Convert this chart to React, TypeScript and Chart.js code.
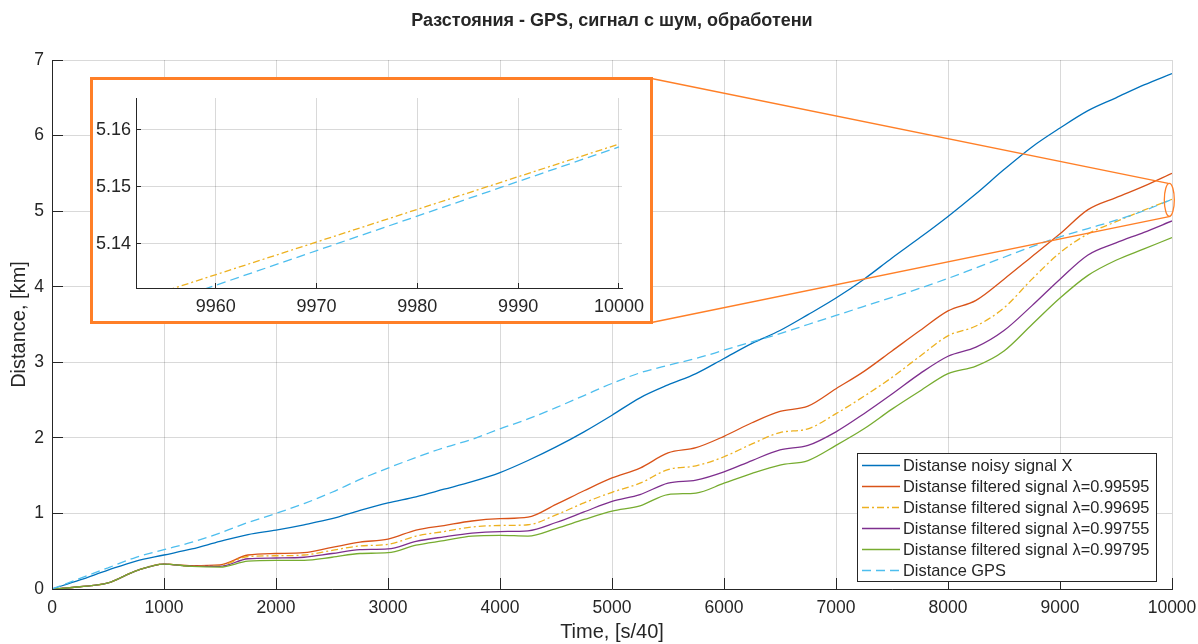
import React, { useEffect, useRef } from 'react';
import { Chart, registerables } from 'chart.js';

Chart.register(...registerables);

const FONT = '"Liberation Sans", Arial, Helvetica, sans-serif';
const TEXT = '#262626';
const GRID = 'rgba(0,0,0,0.15)';
const BOX_ORANGE = '#FF7F27';

// ---------- data ----------
const timeSteps = [
  0, 250, 500, 750, 1000, 1250, 1500, 1750, 2000, 2250, 2500, 2750, 3000, 3250, 3500, 3750, 4000,
  4250, 4500, 4750, 5000, 5250, 5500, 5750, 6000, 6250, 6500, 6750, 7000, 7250, 7500, 7750, 8000,
  8250, 8500, 8750, 9000, 9250, 9500, 9750, 10000,
];
const noisySignalX = [
  0, 0.12, 0.25, 0.37, 0.45, 0.53, 0.63, 0.72, 0.78, 0.85, 0.93, 1.04, 1.14, 1.22, 1.32, 1.42, 1.54,
  1.7, 1.88, 2.08, 2.3, 2.53, 2.7, 2.85, 3.05, 3.25, 3.42, 3.63, 3.85, 4.1, 4.38, 4.65, 4.93, 5.23,
  5.55, 5.85, 6.1, 6.33, 6.5, 6.67, 6.82,
];
const filtered99595 = [
  0, 0.03, 0.08, 0.24, 0.33, 0.31, 0.32, 0.45, 0.47, 0.48, 0.55, 0.62, 0.66, 0.78, 0.84, 0.9, 0.93,
  0.95, 1.12, 1.3, 1.47, 1.6, 1.8, 1.87, 2.02, 2.2, 2.35, 2.42, 2.65, 2.88, 3.15, 3.42, 3.68, 3.82,
  4.1, 4.4, 4.7, 5.02, 5.18, 5.33, 5.5,
];
const filtered99695 = [
  0, 0.03, 0.08, 0.24, 0.33, 0.3, 0.31, 0.43, 0.44, 0.45, 0.51, 0.57, 0.59, 0.7, 0.76, 0.82, 0.84,
  0.85, 0.98, 1.14, 1.28, 1.4, 1.58, 1.63, 1.75, 1.92, 2.07, 2.12, 2.32, 2.55, 2.8, 3.08, 3.35, 3.48,
  3.72, 4.1, 4.45, 4.7, 4.86, 5.014, 5.1575,
];
const filtered99755 = [
  0, 0.03, 0.08, 0.24, 0.33, 0.3, 0.3, 0.4, 0.41, 0.42, 0.47, 0.52, 0.53, 0.63, 0.69, 0.74, 0.76,
  0.77, 0.88, 1.02, 1.16, 1.25, 1.4, 1.44, 1.55, 1.7, 1.84, 1.9, 2.08, 2.32, 2.58, 2.85, 3.08, 3.2,
  3.42, 3.75, 4.1, 4.42, 4.58, 4.72, 4.87,
];
const filtered99795 = [
  0, 0.03, 0.08, 0.24, 0.33, 0.3, 0.29, 0.37, 0.38, 0.38, 0.42, 0.47, 0.48, 0.58, 0.64, 0.7, 0.71,
  0.7, 0.8, 0.92, 1.03, 1.1, 1.25, 1.27, 1.4, 1.53, 1.64, 1.7, 1.9, 2.12, 2.38, 2.62, 2.85, 2.95,
  3.15, 3.5, 3.85, 4.15, 4.35, 4.5, 4.65,
];
const gpsDistance = [
  0, 0.14, 0.28, 0.42, 0.52, 0.62, 0.74, 0.88, 1.0, 1.13, 1.28, 1.45, 1.6, 1.74, 1.87, 1.98, 2.12,
  2.25, 2.4, 2.56, 2.72, 2.86, 2.96, 3.05, 3.16, 3.27, 3.38, 3.5, 3.62, 3.74, 3.86, 3.98, 4.11, 4.25,
  4.39, 4.53, 4.66, 4.77, 4.88, 5.005, 5.157,
];

const seriesLabels = [
  'Distanse noisy signal X',
  'Distanse filtered signal λ=0.99595',
  'Distanse filtered signal λ=0.99695',
  'Distanse filtered signal λ=0.99755',
  'Distanse filtered signal λ=0.99795',
  'Distance GPS',
];
const seriesValues = [noisySignalX, filtered99595, filtered99695, filtered99755, filtered99795, gpsDistance];
const seriesColors = ['#0072BD', '#D95319', '#EDB120', '#7E2F8E', '#77AC30', '#4DBEEE'];
const seriesDashes: number[][] = [[], [], [7, 3, 2, 3], [], [], [9, 5]];

const xTickValues = [0, 1000, 2000, 3000, 4000, 5000, 6000, 7000, 8000, 9000, 10000];
const yTickValues = [0, 1, 2, 3, 4, 5, 6, 7];
const insetXTickValues = [9960, 9970, 9980, 9990, 10000];
const insetYTickValues = [5.14, 5.15, 5.16];
const insetXRange = [9952.1, 10000.3];
const insetYRange = [5.1322, 5.1656];
const zoomCenter = { x: 9976, y: 5.149 };

const titleText = 'Разстояния - GPS, сигнал с шум, обработени';
const xTitle = 'Time, [s/40]';
const yTitle = 'Distance, [km]';

// ---------- layout ----------
const W = 1198;
const H = 644;
const INSET_BOX = { left: 90, top: 77, width: 563, height: 247, border: 3 };
const INSET_W = INSET_BOX.width - 2 * INSET_BOX.border;
const INSET_H = INSET_BOX.height - 2 * INSET_BOX.border;

function buildDatasets(lineMode: 'monotone' | 'linear') {
  return seriesValues.map((vals, i) => ({
    label: seriesLabels[i],
    data: timeSteps.map((x, k) => ({ x, y: vals[k] })),
    borderColor: seriesColors[i],
    backgroundColor: seriesColors[i],
    borderWidth: 1.3,
    borderDash: seriesDashes[i],
    pointRadius: 0,
    fill: false,
    order: seriesValues.length - i,
    tension: 0,
    cubicInterpolationMode: lineMode === 'monotone' ? 'monotone' : 'default',
  }));
}

function align(p: number) {
  return Math.round(p - 0.5) + 0.5;
}

function zeroPadding(s: any) {
  s.paddingLeft = 0;
  s.paddingRight = 0;
  s.paddingTop = 0;
  s.paddingBottom = 0;
}

const mainDecor = {
  id: 'mainDecor',
  afterDraw(chart: any) {
    const { ctx, chartArea: ca, scales } = chart;
    const xs = scales.x;
    const ys = scales.y;
    ctx.save();
    // inward ticks
    ctx.strokeStyle = TEXT;
    ctx.lineWidth = 1;
    ctx.setLineDash([]);
    ctx.beginPath();
    xTickValues.forEach((v) => {
      const px = align(xs.getPixelForValue(v));
      ctx.moveTo(px, ca.bottom);
      ctx.lineTo(px, ca.bottom - 11);
    });
    yTickValues.forEach((v) => {
      const py = align(ys.getPixelForValue(v));
      ctx.moveTo(ca.left, py);
      ctx.lineTo(ca.left + 11, py);
    });
    ctx.stroke();

    // title
    ctx.fillStyle = TEXT;
    ctx.font = `bold 18px ${FONT}`;
    ctx.textAlign = 'center';
    ctx.textBaseline = 'alphabetic';
    ctx.fillText(titleText, (ca.left + ca.right) / 2, 26);

    // axis titles
    ctx.font = `20px ${FONT}`;
    ctx.textBaseline = 'middle';
    ctx.fillText(xTitle, (ca.left + ca.right) / 2, 632);
    ctx.save();
    ctx.translate(19, (ca.top + ca.bottom) / 2);
    ctx.rotate(-Math.PI / 2);
    ctx.fillText(yTitle, 0, 0);
    ctx.restore();

    // legend
    const lw = 299;
    const lh = 128;
    const lx = Math.round(ca.right - 16 - lw);
    const ly = Math.round(ca.bottom - 8 - lh);
    ctx.fillStyle = '#ffffff';
    ctx.fillRect(lx, ly, lw, lh);
    ctx.strokeStyle = TEXT;
    ctx.lineWidth = 1;
    ctx.strokeRect(lx + 0.5, ly + 0.5, lw, lh);
    ctx.font = `16.4px ${FONT}`;
    ctx.textAlign = 'left';
    ctx.textBaseline = 'middle';
    seriesLabels.forEach((label, i) => {
      const ry = ly + 12.5 + i * 21;
      ctx.strokeStyle = seriesColors[i];
      ctx.lineWidth = 1.3;
      ctx.setLineDash(seriesDashes[i]);
      ctx.beginPath();
      ctx.moveTo(lx + 5, ry);
      ctx.lineTo(lx + 43, ry);
      ctx.stroke();
      ctx.setLineDash([]);
      ctx.fillStyle = TEXT;
      ctx.fillText(label, lx + 46, ry + 1);
    });

    // zoom annotation: ellipse + connector lines
    const cx = xs.getPixelForValue(zoomCenter.x);
    const cy = ys.getPixelForValue(zoomCenter.y);
    const rx = 5;
    const ry = 16.5;
    ctx.strokeStyle = BOX_ORANGE;
    ctx.lineWidth = 1.3;
    ctx.beginPath();
    ctx.ellipse(cx, cy, rx, ry, 0, 0, Math.PI * 2);
    ctx.stroke();
    const bx = INSET_BOX.left + INSET_BOX.width - 1.5;
    ctx.beginPath();
    ctx.moveTo(bx, INSET_BOX.top + 1.5);
    ctx.lineTo(cx - 1, cy - ry);
    ctx.moveTo(bx, INSET_BOX.top + INSET_BOX.height - 1.5);
    ctx.lineTo(cx + 1, cy + ry);
    ctx.stroke();
    ctx.restore();
  },
};

const insetDecor = {
  id: 'insetDecor',
  afterDraw(chart: any) {
    const { ctx, chartArea: ca, scales } = chart;
    ctx.save();
    ctx.strokeStyle = TEXT;
    ctx.lineWidth = 1;
    ctx.beginPath();
    insetXTickValues.forEach((v) => {
      const px = align(scales.x.getPixelForValue(v));
      ctx.moveTo(px, ca.bottom);
      ctx.lineTo(px, ca.bottom - 5);
    });
    insetYTickValues.forEach((v) => {
      const py = align(scales.y.getPixelForValue(v));
      ctx.moveTo(ca.left, py);
      ctx.lineTo(ca.left + 5, py);
    });
    ctx.stroke();
    ctx.restore();
  },
};

export default function App() {
  const mainRef = useRef<HTMLCanvasElement | null>(null);
  const insetRef = useRef<HTMLCanvasElement | null>(null);

  useEffect(() => {
    if (!mainRef.current || !insetRef.current) return;
    const main = new Chart(mainRef.current, {
      type: 'line',
      data: { datasets: buildDatasets('monotone') as any },
      options: {
        animation: false,
        responsive: false,
        devicePixelRatio: 1,
        layout: { padding: { left: 0, right: 26, top: 60, bottom: 0 } },
        plugins: { legend: { display: false }, title: { display: false }, tooltip: { enabled: false } },
        events: [],
        scales: {
          x: {
            type: 'linear',
            min: 0,
            max: 10000,
            afterBuildTicks: (s: any) => {
              s.ticks = xTickValues.map((value) => ({ value }));
            },
            afterFit: (s: any) => {
              s.height = 55;
              zeroPadding(s);
            },
            ticks: {
              autoSkip: false,
              maxRotation: 0,
              padding: 9,
              color: TEXT,
              font: { family: FONT, size: 17.5 },
              callback: (v: any) => String(v),
            },
            grid: { color: GRID, lineWidth: 1, drawTicks: false },
            border: { display: true, color: TEXT, width: 1 },
          },
          y: {
            type: 'linear',
            min: 0,
            max: 7,
            afterBuildTicks: (s: any) => {
              s.ticks = yTickValues.map((value) => ({ value }));
            },
            afterFit: (s: any) => {
              s.width = 52;
              zeroPadding(s);
            },
            ticks: {
              autoSkip: false,
              padding: 8,
              color: TEXT,
              font: { family: FONT, size: 17.5 },
              callback: (v: any) => String(v),
            },
            grid: { color: GRID, lineWidth: 1, drawTicks: false },
            border: { display: true, color: TEXT, width: 1 },
          },
        },
      },
      plugins: [mainDecor],
    } as any);

    const inset = new Chart(insetRef.current, {
      type: 'line',
      data: { datasets: buildDatasets('linear') as any },
      options: {
        animation: false,
        responsive: false,
        devicePixelRatio: 1,
        layout: { padding: { left: 0, right: 28, top: 18, bottom: 0 } },
        plugins: { legend: { display: false }, title: { display: false }, tooltip: { enabled: false } },
        events: [],
        scales: {
          x: {
            type: 'linear',
            min: insetXRange[0],
            max: insetXRange[1],
            afterBuildTicks: (s: any) => {
              s.ticks = insetXTickValues.map((value) => ({ value }));
            },
            afterFit: (s: any) => {
              s.height = 33;
              zeroPadding(s);
            },
            ticks: {
              autoSkip: false,
              maxRotation: 0,
              padding: 8,
              color: TEXT,
              font: { family: FONT, size: 18 },
              callback: (v: any) => String(v),
            },
            grid: { color: GRID, lineWidth: 1, drawTicks: false },
            border: { display: true, color: TEXT, width: 1 },
          },
          y: {
            type: 'linear',
            min: insetYRange[0],
            max: insetYRange[1],
            afterBuildTicks: (s: any) => {
              s.ticks = insetYTickValues.map((value) => ({ value }));
            },
            afterFit: (s: any) => {
              s.width = 43;
              zeroPadding(s);
            },
            ticks: {
              autoSkip: false,
              padding: 5,
              color: TEXT,
              font: { family: FONT, size: 18 },
              callback: (v: any) => Number(v).toFixed(2),
            },
            grid: { color: GRID, lineWidth: 1, drawTicks: false },
            border: { display: true, color: TEXT, width: 1 },
          },
        },
      },
      plugins: [insetDecor],
    } as any);

    return () => {
      main.destroy();
      inset.destroy();
    };
  }, []);

  return (
    <div style={{ position: 'fixed', left: 0, top: 0, width: W, height: H, background: '#ffffff' }}>
      <canvas ref={mainRef} width={W} height={H} style={{ position: 'absolute', left: 0, top: 0, width: W, height: H }} />
      <div
        style={{
          position: 'absolute',
          left: INSET_BOX.left,
          top: INSET_BOX.top,
          width: INSET_BOX.width,
          height: INSET_BOX.height,
          boxSizing: 'border-box',
          border: `${INSET_BOX.border}px solid ${BOX_ORANGE}`,
          background: '#ffffff',
        }}
      >
        <canvas ref={insetRef} width={INSET_W} height={INSET_H} style={{ display: 'block', width: INSET_W, height: INSET_H }} />
      </div>
    </div>
  );
}
